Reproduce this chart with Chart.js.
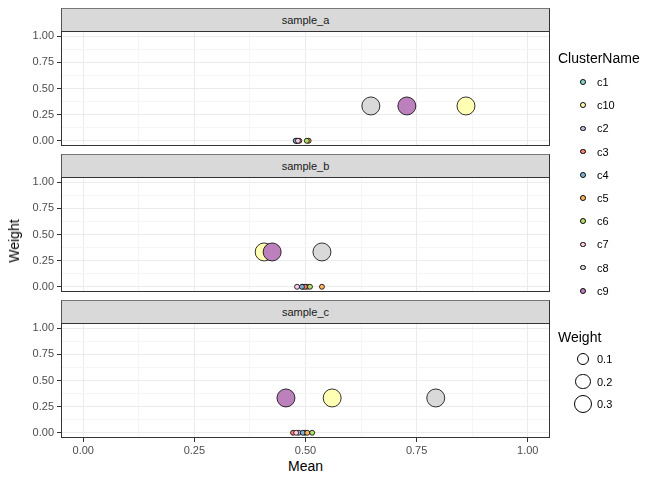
<!DOCTYPE html>
<html>
<head>
<meta charset="utf-8">
<script src="https://cdn.jsdelivr.net/npm/chart.js@4/dist/chart.umd.min.js"></script>
<style>
  html, body { margin:0; padding:0; background:#fff; }
  body { width:672px; height:480px; position:relative; overflow:hidden; font-family:"Liberation Sans", Arial, sans-serif; }
  .abs { position:absolute; }
  .strip { position:absolute; background:#D9D9D9; border:1px solid #333; border-top-color:#777; border-left-color:#555; box-sizing:border-box; color:#1A1A1A; font-size:11px; display:flex; align-items:center; justify-content:center; }
  .txt { position:absolute; white-space:nowrap; transform:translateY(-50%); }
  .dot { position:absolute; border-radius:50%; border:1px solid #000; box-sizing:border-box; }
</style>
</head>
<body>
<script>
// ---- data ----
const clusters = ['c1','c10','c2','c3','c4','c5','c6','c7','c8','c9'];
const clusterColors = ['#8DD3C7','#FFFFB3','#BEBADA','#FB8072','#80B1D3','#FDB462','#B3DE69','#FCCDE5','#D9D9D9','#BC80BD'];
const panelNames = ['sample_a','sample_b','sample_c'];
const meanA   = [0.481,0.861,0.479,0.486,0.478,0.507,0.503,0.483,0.647,0.728];
const weightA = [0,0.333,0,0,0,0,0,0,0.333,0.333];
const meanB   = [0.494,0.407,0.504,0.499,0.492,0.537,0.510,0.481,0.537,0.425];
const weightB = [0,0.333,0,0,0,0,0,0,0.333,0.333];
const meanC   = [0.499,0.560,0.485,0.472,0.494,0.504,0.515,0.479,0.793,0.456];
const weightC = [0,0.333,0,0,0,0,0,0,0.333,0.333];
const majorTicks = [0,0.25,0.5,0.75,1];
const tickLabels = ['0.00','0.25','0.50','0.75','1.00'];
const minorTicks = [0.125,0.375,0.625,0.875];
const sizeBreaks = [0.1,0.2,0.3];
const sizeLabels = ['0.1','0.2','0.3'];

const means = [meanA, meanB, meanC];
const weights = [weightA, weightB, weightC];

// ---- layout ----
const FONT = '"Liberation Sans", Arial, sans-serif';
const plotLeft = 61, plotRight = 550;
const plotTops = [31, 177, 323];
const plotH = 115;
const stripH = 23;
function radiusFor(w){ return 2.5 + 6.5*Math.sqrt(Math.max(w,0)/0.3333); }
function isMajor(v){ return majorTicks.some(m => Math.abs(m - v) < 1e-9); }
function labelFor(v){ const i = majorTicks.findIndex(m => Math.abs(m - v) < 1e-9); return i >= 0 ? tickLabels[i] : ''; }
const allTicks = majorTicks.concat(minorTicks).sort((a,b)=>a-b);

const borderPlugin = {
  id:'panelBorder',
  afterDraw(chart){
    const a = chart.chartArea, c = chart.ctx;
    c.save(); c.strokeStyle = '#333333'; c.lineWidth = 1;
    c.strokeRect(Math.round(a.left)+0.5, Math.round(a.top)+0.5, Math.round(a.right-a.left)-1, Math.round(a.bottom-a.top)-1);
    c.restore();
  }
};

panelNames.forEach((name, p) => {
  const last = p === panelNames.length - 1;
  // strip
  const s = document.createElement('div');
  s.className = 'strip';
  s.style.left = plotLeft + 'px'; s.style.top = (plotTops[p] - stripH) + 'px';
  s.style.width = (plotRight - plotLeft) + 'px'; s.style.height = (stripH + 1) + 'px';
  s.textContent = name;
  document.body.appendChild(s);

  const padTop = 4, padBot = last ? 0 : 4, xH = last ? 20 : 0;
  const W = 560;
  const H = padTop + plotH + padBot + xH;
  const wrap = document.createElement('div');
  wrap.className = 'abs';
  wrap.style.left = '0px'; wrap.style.top = (plotTops[p] - padTop) + 'px';
  const cv = document.createElement('canvas');
  cv.width = W; cv.height = H; cv.style.width = W + 'px'; cv.style.height = H + 'px';
  wrap.appendChild(cv);
  document.body.appendChild(wrap);

  const datasets = clusters.map((c, i) => ({
    label: c,
    data: [{x: means[p][i], y: weights[p][i]}],
    backgroundColor: clusterColors[i],
    borderColor: '#000000',
    borderWidth: 0.8,
    pointRadius: ctx => ctx.raw ? radiusFor(ctx.raw.y) : 2.5,
    pointHoverRadius: ctx => ctx.raw ? radiusFor(ctx.raw.y) : 2.5,
    order: clusters.length - i
  }));

  const gridOpts = (drawTicks) => ({
    color: ctx => (ctx.tick && isMajor(ctx.tick.value)) ? '#EBEBEB' : '#F5F5F5',
    lineWidth: 1,
    drawTicks: drawTicks,
    tickLength: 4,
    tickColor: ctx => (ctx.tick && isMajor(ctx.tick.value)) ? '#333333' : 'rgba(0,0,0,0)'
  });

  new Chart(cv, {
    type: 'scatter',
    data: { datasets },
    options: {
      responsive: false, maintainAspectRatio: false, animation: false,
      events: [],
      layout: { autoPadding: false, padding: { left: 0, right: W - plotRight, top: padTop, bottom: padBot } },
      plugins: { legend: { display: false }, tooltip: { enabled: false } },
      scales: {
        x: {
          type: 'linear', min: -0.05, max: 1.05,
          afterBuildTicks: sc => { sc.ticks = allTicks.map(v => ({value: v})); },
          afterFit: sc => { sc.height = xH; sc.paddingLeft = 0; sc.paddingRight = 0; },
          ticks: { display: last, autoSkip: false, maxRotation: 0, padding: 2, color: '#4D4D4D',
                   font: { family: FONT, size: 11 }, callback: v => labelFor(v) },
          grid: gridOpts(last),
          border: { display: false }
        },
        y: {
          type: 'linear', min: -0.05, max: 1.05,
          afterBuildTicks: sc => { sc.ticks = allTicks.map(v => ({value: v})); },
          afterFit: sc => { sc.width = plotLeft; sc.paddingTop = 0; sc.paddingBottom = 0; },
          ticks: { display: true, autoSkip: false, padding: 3, color: '#4D4D4D',
                   font: { family: FONT, size: 11, lineHeight: 0 }, callback: v => labelFor(v) },
          grid: gridOpts(true),
          border: { display: false }
        }
      }
    },
    plugins: [borderPlugin]
  });
});

// axis titles
function addText(txt, x, y, size, extra){
  const d = document.createElement('div');
  d.className = 'txt'; d.textContent = txt;
  d.style.left = x + 'px'; d.style.top = y + 'px'; d.style.fontSize = size + 'px'; d.style.color = '#000';
  if (extra) extra(d);
  document.body.appendChild(d);
  return d;
}
addText('Mean', (plotLeft + plotRight)/2, 466, 14, d => { d.style.transform = 'translate(-50%,-50%)'; });
addText('Weight', 14, 241, 14, d => { d.style.transform = 'translate(-50%,-50%) rotate(-90deg)'; });

// legend: ClusterName
addText('ClusterName', 558, 58, 14);
const keyX = 583, lblX = 597;
clusters.forEach((c, i) => {
  const cy = 82 + 23.2 * i;
  const r = radiusFor(0) + 0.4;
  const d = document.createElement('div');
  d.className = 'dot';
  d.style.left = (keyX - r) + 'px'; d.style.top = (cy - r) + 'px';
  d.style.width = (2*r) + 'px'; d.style.height = (2*r) + 'px';
  d.style.background = clusterColors[i];
  document.body.appendChild(d);
  addText(c, lblX, cy, 11);
});
// legend: Weight
addText('Weight', 558, 337, 14);
sizeBreaks.forEach((w, i) => {
  const cy = 359 + 22.5 * i;
  const r = radiusFor(w) + 0.4;
  const d = document.createElement('div');
  d.className = 'dot';
  d.style.left = (keyX - r) + 'px'; d.style.top = (cy - r) + 'px';
  d.style.width = (2*r) + 'px'; d.style.height = (2*r) + 'px';
  d.style.background = '#fff';
  document.body.appendChild(d);
  addText(sizeLabels[i], lblX, cy, 11);
});
</script>
</body>
</html>
